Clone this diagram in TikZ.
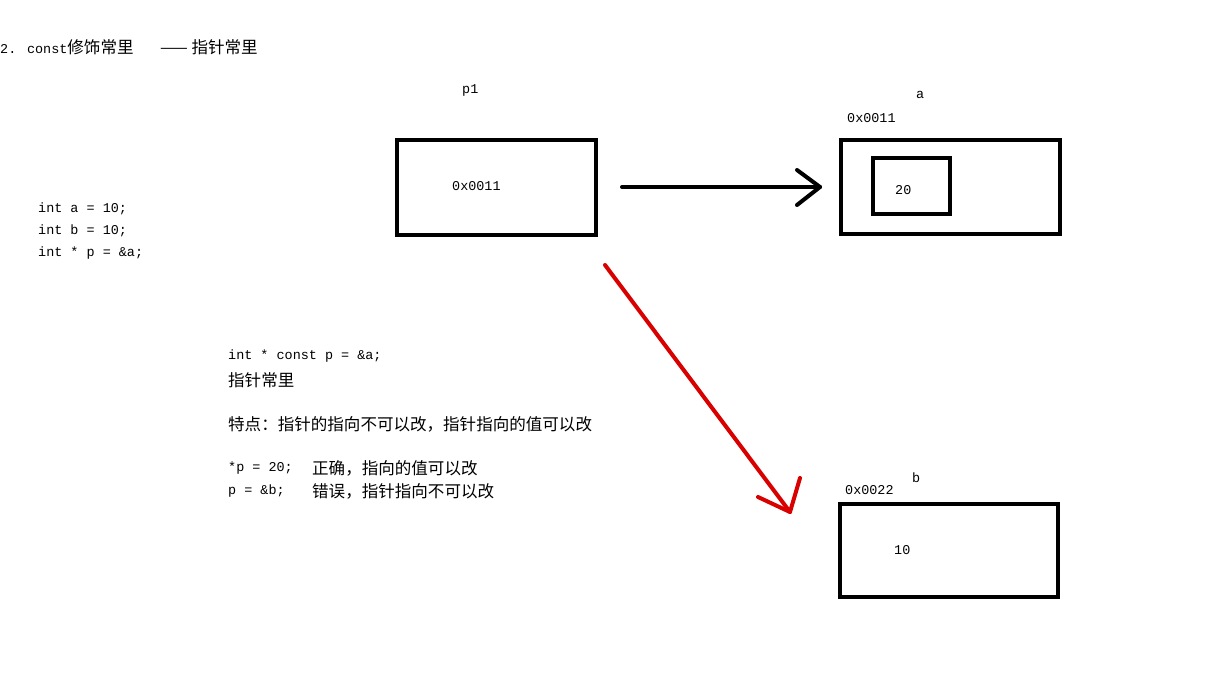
\documentclass[tikz,border=0pt]{standalone}
\usepackage{fontspec}
\setmainfont{Liberation Mono}
\newfontfamily\cjk{Noto Sans CJK SC}
\newcommand{\zh}{\cjk\fontsize{16.6}{18}\selectfont}
\begin{document}
\begin{tikzpicture}[x=1bp,y=-1bp,
  box/.style={draw,line width=4bp,inner sep=0pt},
  lbl/.style={anchor=west,inner sep=0pt,font=\fontsize{13.5}{15}\selectfont},
  zl/.style={anchor=west,inner sep=0pt,font=\zh},
  arr/.style={line width=4bp,line cap=round,line join=round}]
\useasboundingbox[fill=white] (0,0) rectangle (1207,675);
\node[lbl] (t1) at (0,47) {2. const{\zh 修饰常里}};
\node[zl] (t2) at (160,47) {—— 指针常里};
\node[lbl] (c1) at (38,209) {int a = 10;};
\node[lbl] (c2) at (38,231) {int b = 10;};
\node[lbl] (c3) at (38,253) {int * p = \&a;};
\draw[box] (397,140) rectangle (596,235);
\node[lbl] (p1) at (462,90) {p1};
\node[lbl] (v1) at (452,186) {0x0011};
\draw[box] (841,140) rectangle (1060,234);
\draw[box] (873,158) rectangle (950,214);
\node[lbl] (al) at (916,95) {a};
\node[lbl] (aa) at (847,118) {0x0011};
\node[lbl] (v20) at (895,190) {20};
\draw[box] (840,504) rectangle (1058,597);
\node[lbl] (bl) at (912,478) {b};
\node[lbl] (ba) at (845,490) {0x0022};
\node[lbl] (v10) at (894,550) {10};
\coordinate (s1) at (622,187); \coordinate (e1) at (820,187);
\draw[arr] (s1) -- (e1);
\draw[arr] (797,170) -- (e1) -- (797,205);
\coordinate (s2) at (605,265); \coordinate (e2) at (790,512);
\draw[arr,red!85!black] (s2) -- (e2);
\draw[arr,red!85!black] (758,497) -- (e2) -- (800,478);
\node[lbl] (m1) at (228,356) {int * const p = \&a;};
\node[zl] (m2) at (228,380) {指针常里};
\node[zl] (m3) at (228,424) {特点：指针的指向不可以改，指针指向的值可以改};
\node[lbl] (m4) at (228,468) {*p = 20;};
\node[zl] (m4z) at (312,468) {正确，指向的值可以改};
\node[lbl] (m5) at (228,491) {p = \&b;};
\node[zl] (m5z) at (312,491) {错误，指针指向不可以改};
\end{tikzpicture}
\end{document}
